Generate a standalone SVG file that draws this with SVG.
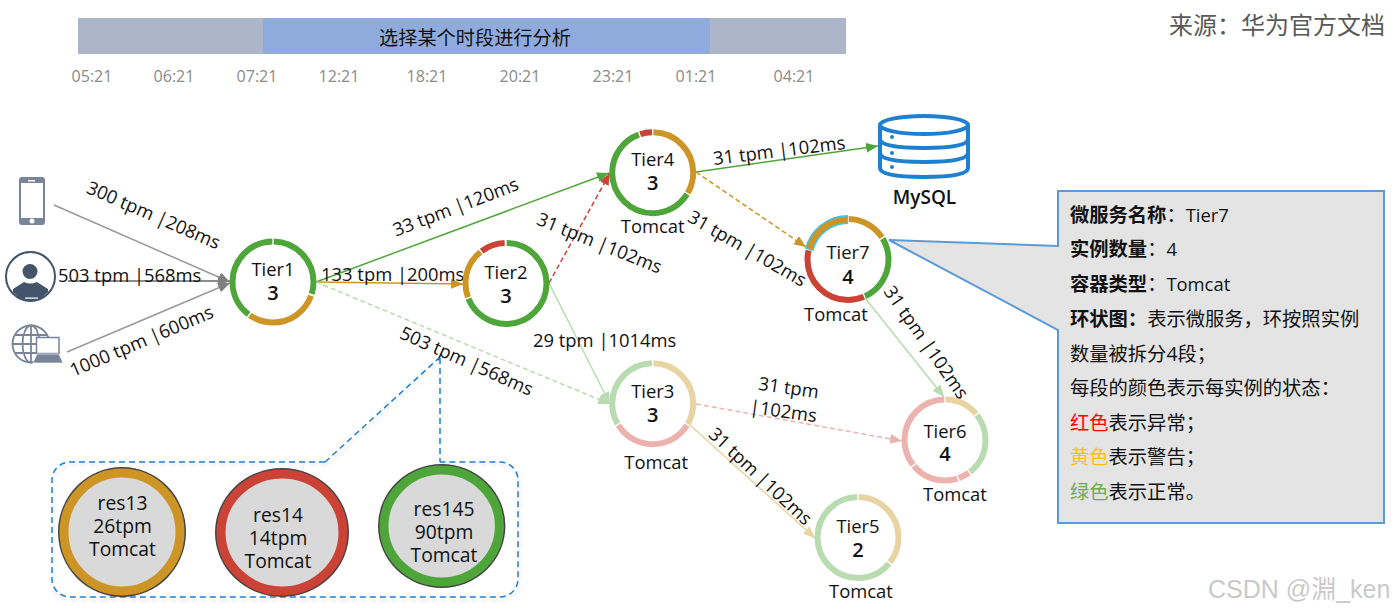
<svg xmlns="http://www.w3.org/2000/svg" width="1395" height="613" viewBox="0 0 1395 613">
<style>
text{font-family:"Open Sans","Noto Sans CJK SC",sans-serif;fill:#111}
.c{text-anchor:middle}
.l{font-size:18.400px}
.t{font-size:18.400px;text-anchor:middle}
.n{font-size:20px;font-weight:600;text-anchor:middle}
.time{font-size:16px;fill:#8a8a8a;text-anchor:middle}
.e{fill:none;stroke-width:1.5}
.d{stroke-dasharray:5 3}
.r{fill:none;stroke-width:6}
.g{stroke:#4ea63a}.y{stroke:#cc9526}.x{stroke:#cb4236}
.lg{stroke:#b9dbb0}.ly{stroke:#e8d3a2}.lx{stroke:#ebb2ae}
.info{font-size:19.300px}
.info .b{font-weight:700}
.info .v{font-size:18.400px}
.res{font-size:19.300px;text-anchor:middle}
.blue{fill:none;stroke:#1f7fd0;stroke-width:1.5;stroke-dasharray:6 4}
</style>
<defs>
<marker id="mGray" markerWidth="13" markerHeight="11" refX="12" refY="5" orient="auto" markerUnits="userSpaceOnUse"><path d="M0 0L12 5L0 10z" fill="#7f7f7f"/></marker>
<marker id="mG" markerWidth="13" markerHeight="11" refX="12" refY="5" orient="auto" markerUnits="userSpaceOnUse"><path d="M0 0L12 5L0 10z" fill="#4ea63a"/></marker>
<marker id="mY" markerWidth="13" markerHeight="11" refX="12" refY="5" orient="auto" markerUnits="userSpaceOnUse"><path d="M0 0L12 5L0 10z" fill="#cc9526"/></marker>
<marker id="mX" markerWidth="13" markerHeight="11" refX="12" refY="5" orient="auto" markerUnits="userSpaceOnUse"><path d="M0 0L12 5L0 10z" fill="#cb4236"/></marker>
<marker id="mLG" markerWidth="13" markerHeight="11" refX="12" refY="5" orient="auto" markerUnits="userSpaceOnUse"><path d="M0 0L12 5L0 10z" fill="#b9dbb0"/></marker>
<marker id="mLY" markerWidth="13" markerHeight="11" refX="12" refY="5" orient="auto" markerUnits="userSpaceOnUse"><path d="M0 0L12 5L0 10z" fill="#e8d3a2"/></marker>
<marker id="mLX" markerWidth="13" markerHeight="11" refX="12" refY="5" orient="auto" markerUnits="userSpaceOnUse"><path d="M0 0L12 5L0 10z" fill="#ebb2ae"/></marker>
<filter id="sh" x="-5%" y="-5%" width="110%" height="115%"><feDropShadow dx="1" dy="2" stdDeviation="2" flood-color="#000" flood-opacity=".18"/></filter>
</defs>

<g id="timeline">
<rect x="78" y="18" width="768" height="36" fill="#adb5c9"/>
<rect x="263" y="18" width="447" height="36" fill="#8faadc"/>
<text class="c" x="475" y="45" font-size="19.200">选择某个时段进行分析</text>
<text class="time" x="92" y="82">05:21</text>
<text class="time" x="174" y="82">06:21</text>
<text class="time" x="257" y="82">07:21</text>
<text class="time" x="339" y="82">12:21</text>
<text class="time" x="427" y="82">18:21</text>
<text class="time" x="520" y="82">20:21</text>
<text class="time" x="613" y="82">23:21</text>
<text class="time" x="696" y="82">01:21</text>
<text class="time" x="794" y="82">04:21</text>
</g>
<text x="1169" y="34" font-size="24" style="fill:#595959">来源：华为官方文档</text>

<g id="connectors">
<path class="e" stroke="#999" marker-end="url(#mGray)" d="M54 205L230 282"/>
<path stroke="#8c8c8c" stroke-width="2" fill="none" marker-end="url(#mGray)" d="M68 281L230 281"/>
<path class="e" stroke="#999" marker-end="url(#mGray)" d="M67 352L230 283"/>
<path class="e g" marker-end="url(#mG)" d="M316 282L609 173"/>
<path class="e y" marker-end="url(#mY)" d="M316 282L463 284"/>
<path class="e d lg" marker-end="url(#mLG)" d="M316 282L610 404"/>
<path class="e d x" marker-end="url(#mX)" d="M549 283L610 173"/>
<path class="e lg" marker-end="url(#mLG)" d="M549 283L610 404"/>
<path class="e g" marker-end="url(#mG)" d="M696 172L878 146"/>
<path class="e d y" marker-end="url(#mY)" d="M696 172L806 247"/>
<path class="e lg" marker-end="url(#mLG)" d="M865 298L944 397"/>
<path class="e d lx" marker-end="url(#mLX)" d="M696 404L902 441"/>
<path class="e ly" marker-end="url(#mLY)" d="M690 425L815 538"/>
</g>

<g id="labels">
<text class="l c" transform="translate(151 221) rotate(23.500)">300 tpm |208ms</text>
<text class="l" x="58" y="282">503 tpm |568ms</text>
<text class="l c" transform="translate(144 347) rotate(-23)">1000 tpm |600ms</text>
<text class="l c" transform="translate(458 213) rotate(-21)">33 tpm |120ms</text>
<text class="l" x="321" y="281">133 tpm |200ms</text>
<text class="l c" transform="translate(464 367) rotate(24)">503 tpm |568ms</text>
<text class="l c" transform="translate(597 249) rotate(22)">31 tpm |102ms</text>
<text class="l" x="533" y="347">29 tpm |1014ms</text>
<text class="l c" transform="translate(780 157) rotate(-7)">31 tpm |102ms</text>
<text class="l c" transform="translate(744 254) rotate(30)">31 tpm |102ms</text>
<text class="l c" transform="translate(921 346) rotate(55)">31 tpm |102ms</text>
<g transform="translate(787 400) rotate(8)"><text class="l c" y="-6">31 tpm</text><text class="l c" x="-2" y="18">|102ms</text></g>
<text class="l c" transform="translate(756 481) rotate(43)">31 tpm |102ms</text>
</g>

<g id="phone">
<rect x="19" y="177" width="26" height="48" rx="3" fill="#7a8499"/>
<rect x="21" y="183" width="22" height="35" fill="#fff"/>
<rect x="28" y="180" width="7" height="1.500" fill="#fff"/>
<circle cx="32" cy="221" r="2.500" fill="#fff"/>
</g>
<g id="user">
<circle cx="30.500" cy="276.500" r="24.500" fill="#fff" stroke="#44546a" stroke-width="2"/>
<circle cx="30" cy="271.500" r="7.500" fill="#44546a"/>
<path d="M13 289L24 282Q30 285 37 282L48 289L48 292Q43 297 38 300H23Q17 297 13 292z" fill="#44546a"/>
<rect x="25" y="297.500" width="13" height="1.200" fill="#fff"/>
</g>
<g id="web" fill="none" stroke="#7a8499" stroke-width="1.800">
<circle cx="31" cy="344" r="18.500"/>
<ellipse cx="31" cy="344" rx="8.500" ry="18.500"/>
<path d="M31 325.500V362.500M12.500 344H49.500M15 335H47M15 353H47"/>
<rect x="36.500" y="337.500" width="22.500" height="16" fill="#fff" stroke-width="1.500"/>
<path d="M33 363L37 354H59L63 363z" fill="#7a8499" stroke="#fff" stroke-width=".6"/>
</g>

<g id="mysql" fill="none" stroke="#1f7fd0" stroke-width="4">
<ellipse cx="924" cy="125" rx="44" ry="9"/>
<path d="M880 125V168Q880 177 924 177T968 168V125"/>
<path d="M880 139Q880 148 924 148T968 139M880 153Q880 162 924 162T968 153"/>
<circle cx="892" cy="137" r="2" fill="#1f7fd0" stroke-width="0"/>
<circle cx="892" cy="153" r="2" fill="#1f7fd0" stroke-width="0"/>
<circle cx="892" cy="167" r="2" fill="#1f7fd0" stroke-width="0"/>
<text class="c" x="924.500" y="204" font-size="19" font-weight="600" stroke="none">MySQL</text>
</g>

<g id="tier1" transform="translate(273 282)">
<g transform="rotate(-90)">
<circle class="r g" r="40.500" pathLength="360" stroke-dasharray="106 254" stroke-dashoffset="-1"/>
<circle class="r y" r="40.500" pathLength="360" stroke-dasharray="105 255" stroke-dashoffset="-110"/>
<circle class="r g" r="40.500" pathLength="360" stroke-dasharray="142 218" stroke-dashoffset="-217"/>
</g>
<text class="t" y="-6">Tier1</text><text class="n" y="18">3</text>
</g>
<g id="tier2" transform="translate(506 283.500)">
<g transform="rotate(-90)">
<circle class="r g" r="40.500" pathLength="360" stroke-dasharray="247 113" stroke-dashoffset="-1"/>
<circle class="r y" r="40.500" pathLength="360" stroke-dasharray="71 289" stroke-dashoffset="-250"/>
<circle class="r x" r="40.500" pathLength="360" stroke-dasharray="35 325" stroke-dashoffset="-323"/>
</g>
<text class="t" y="-5">Tier2</text><text class="n" y="19">3</text>
</g>
<g id="tier3" transform="translate(652.700 403.700)">
<g transform="rotate(-90)">
<circle class="r ly" r="40.500" pathLength="360" stroke-dasharray="119 241" stroke-dashoffset="-1"/>
<circle class="r lx" r="40.500" pathLength="360" stroke-dasharray="116 244" stroke-dashoffset="-122"/>
<circle class="r lg" r="40.500" pathLength="360" stroke-dasharray="119 241" stroke-dashoffset="-240"/>
</g>
<text class="t" y="-6">Tier3</text><text class="n" y="18">3</text>
<text class="t" x="3.500" y="65">Tomcat</text>
</g>
<g id="tier4" transform="translate(652.700 172.700)">
<g transform="rotate(-90)">
<circle class="r y" r="40.500" pathLength="360" stroke-dasharray="119 241" stroke-dashoffset="-1"/>
<circle class="r g" r="40.500" pathLength="360" stroke-dasharray="218 142" stroke-dashoffset="-122"/>
<circle class="r x" r="40.500" pathLength="360" stroke-dasharray="17 343" stroke-dashoffset="-342"/>
</g>
<text class="t" y="-7">Tier4</text><text class="n" y="17">3</text>
<text class="t" y="60">Tomcat</text>
</g>
<g id="tier5" transform="translate(858 537.500)">
<g transform="rotate(-90)">
<circle class="r ly" r="40.500" pathLength="360" stroke-dasharray="127 233" stroke-dashoffset="-1"/>
<circle class="r lg" r="40.500" pathLength="360" stroke-dasharray="229 131" stroke-dashoffset="-130"/>
</g>
<text class="t" y="-5">Tier5</text><text class="n" y="19">2</text>
<text class="t" x="3" y="60">Tomcat</text>
</g>
<g id="tier6" transform="translate(945 440)">
<g transform="rotate(-90)">
<circle class="r ly" r="40.500" pathLength="360" stroke-dasharray="49 311" stroke-dashoffset="-1"/>
<circle class="r lg" r="40.500" pathLength="360" stroke-dasharray="90 270" stroke-dashoffset="-52"/>
<circle class="r lx" r="40.500" pathLength="360" stroke-dasharray="16 344" stroke-dashoffset="-144"/>
<circle class="r lx" r="40.500" pathLength="360" stroke-dasharray="68 292" stroke-dashoffset="-162"/>
<circle class="r lx" r="40.500" pathLength="360" stroke-dasharray="127 233" stroke-dashoffset="-232"/>
</g>
<text class="t" y="-2">Tier6</text><text class="n" y="21">4</text>
<text class="t" x="10" y="61">Tomcat</text>
</g>
<g id="tier7" transform="translate(848 259.500)">
<g transform="rotate(-90)">
<circle class="r y" r="40.500" pathLength="360" stroke-dasharray="56 304" stroke-dashoffset="-1"/>
<circle class="r g" r="40.500" pathLength="360" stroke-dasharray="96 264" stroke-dashoffset="-59"/>
<circle class="r x" r="40.500" pathLength="360" stroke-dasharray="126 234" stroke-dashoffset="-157"/>
<circle fill="none" stroke="#41c4ec" stroke-width="9" r="40" pathLength="360" stroke-dasharray="76 284" stroke-dashoffset="-284"/>
<circle fill="none" stroke="#cc9526" stroke-width="6" r="40" pathLength="360" stroke-dasharray="73 287" stroke-dashoffset="-285.500"/>
</g>
<text class="t" y="-1">Tier7</text><text class="n" y="24">4</text>
<text class="t" x="-12" y="61">Tomcat</text>
</g>

<g id="callout">
<path d="M1058 191H1384V523H1058V330L889 240L1058 246z" fill="#e4e4e4" stroke="#5b9bd5" stroke-width="2"/>
<g class="info">
<text x="1070" y="222"><tspan class="b">微服务名称</tspan>：<tspan class="v">Tier7</tspan></text>
<text x="1070" y="256"><tspan class="b">实例数量</tspan>：<tspan class="v">4</tspan></text>
<text x="1070" y="291"><tspan class="b">容器类型</tspan>：<tspan class="v">Tomcat</tspan></text>
<text x="1070" y="326"><tspan class="b">环状图：</tspan>表示微服务，环按照实例</text>
<text x="1070" y="361">数量被拆分4段；</text>
<text x="1070" y="395">每段的颜色表示每实例的状态：</text>
<text x="1070" y="430"><tspan style="fill:#ff0000">红色</tspan>表示异常；</text>
<text x="1070" y="464"><tspan style="fill:#ffc000">黄色</tspan>表示警告；</text>
<text x="1070" y="499"><tspan style="fill:#70ad47">绿色</tspan>表示正常。</text>
</g>
</g>

<g id="instances">
<path class="blue" filter="url(#sh)" d="M325 462L439 358M440 358V462M325 462H70A18 18 0 0 0 52 480V579A18 18 0 0 0 70 597H500A18 18 0 0 0 518 579V480A18 18 0 0 0 500 462H440"/>
</g>
<g id="res13">
<ellipse cx="122" cy="532" rx="64" ry="65" fill="#444"/>
<ellipse cx="122" cy="532" rx="58" ry="59" fill="#d9d9d9" stroke="#cc9526" stroke-width="9"/>
<text class="res" x="122.500" y="510">res13</text><text class="res" x="122.500" y="533">26tpm</text><text class="res" x="122.500" y="556">Tomcat</text>
</g>
<g id="res14">
<ellipse cx="282" cy="532.500" rx="67" ry="64.500" fill="#444"/>
<ellipse cx="282" cy="532.500" rx="61" ry="58.500" fill="#d9d9d9" stroke="#cb4236" stroke-width="9"/>
<text class="res" x="278" y="522">res14</text><text class="res" x="278" y="545">14tpm</text><text class="res" x="278" y="568">Tomcat</text>
</g>
<g id="res145">
<ellipse cx="441.700" cy="526" rx="63.700" ry="62" fill="#444"/>
<ellipse cx="441.700" cy="526" rx="57.700" ry="56" fill="#d9d9d9" stroke="#4ea63a" stroke-width="9"/>
<text class="res" x="444" y="516">res145</text><text class="res" x="444" y="539">90tpm</text><text class="res" x="444" y="562">Tomcat</text>
</g>
<text x="1208" y="598" font-size="25" style="fill:#c9c9c9;font-family:'Liberation Sans','Noto Sans CJK SC',sans-serif">CSDN @淵_ken</text>
</svg>
